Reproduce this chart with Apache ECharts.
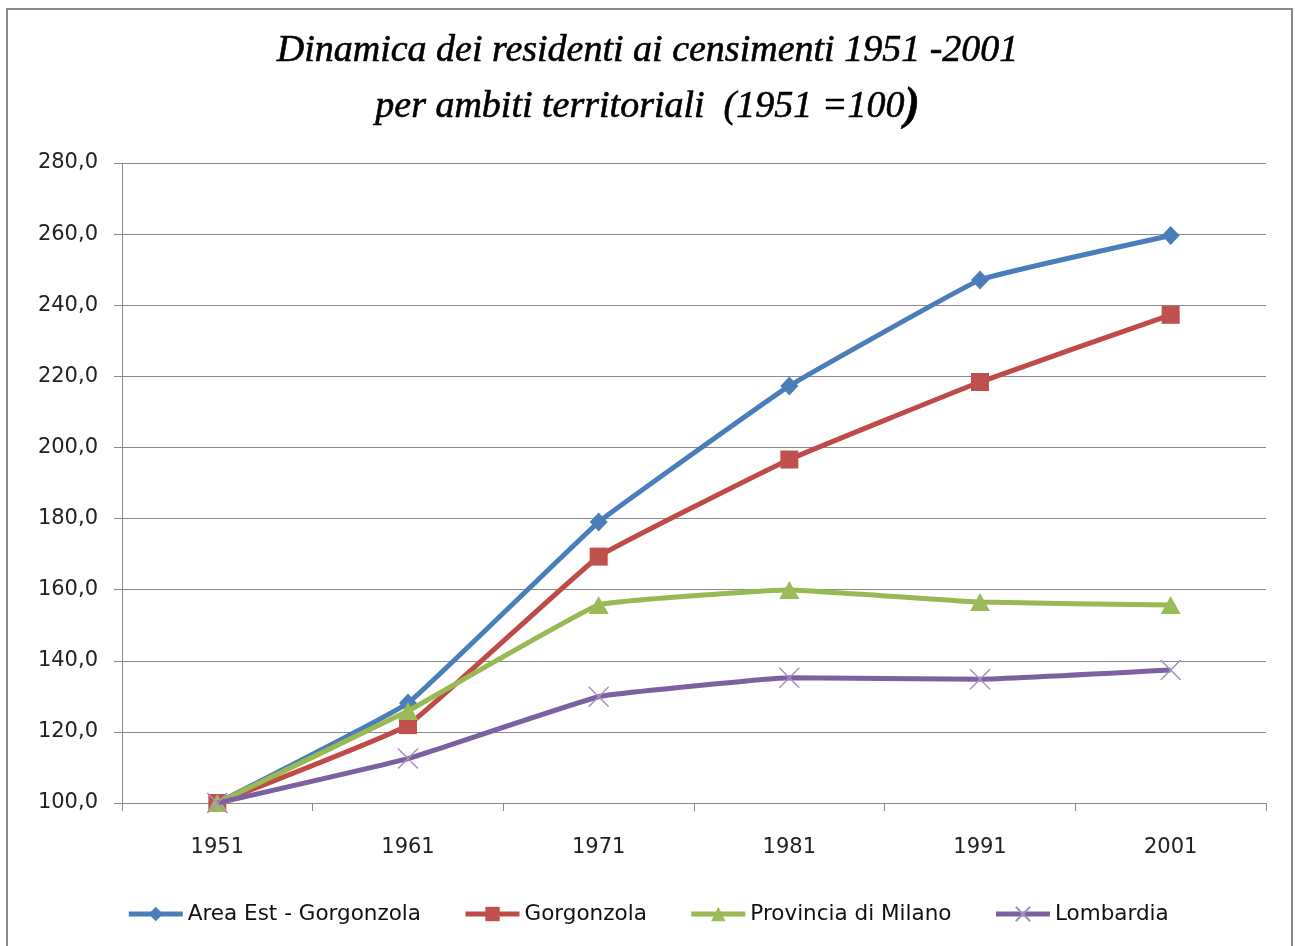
<!DOCTYPE html>
<html>
<head>
<meta charset="utf-8">
<script src="https://cdn.jsdelivr.net/npm/echarts@6/dist/echarts.min.js"></script>
<style>
html,body{margin:0;padding:0;background:#fff;}
#chart{width:1295px;height:946px;}
</style>
</head>
<body>
<div id="chart"></div>
<script>
const years = ['1951', '1961', '1971', '1981', '1991', '2001'];
const areaEst = [100.0, 128.1, 179.0, 217.3, 247.1, 259.6];
const gorgonzola = [100.0, 121.9, 169.3, 196.6, 218.4, 237.3];
const provincia = [100.0, 125.9, 155.7, 159.9, 156.5, 155.7];
const lombardia = [100.0, 112.5, 129.9, 135.2, 134.8, 137.4];
const seriesNames = ['Area Est - Gorgonzola', 'Gorgonzola', 'Provincia di Milano', 'Lombardia'];
const yTicks = { min: 100, max: 280, interval: 20 };

const chart = echarts.init(document.getElementById('chart'));
const crossPath = 'path://M0,0L10,10M10,0L0,10';
const smooth = 0.08;
const uiFont = '"DejaVu Sans", "Open Sans", sans-serif';
chart.setOption({
  backgroundColor: '#fff',
  animation: false,
  graphic: [{
    type: 'rect',
    shape: { x: 7, y: 9, width: 1285, height: 945 },
    style: { fill: 'none', stroke: '#8a8a8a', lineWidth: 2 },
    z: -1
  }],
  title: {
    text: 'Dinamica dei residenti ai censimenti 1951 -2001\n{b|per ambiti territoriali  (1951 =100}{p|)}',
    left: 'center',
    top: 18,
    textStyle: {
      fontFamily: '"Liberation Serif", "DejaVu Serif", serif',
      fontStyle: 'italic',
      fontSize: 38,
      fontWeight: 'normal',
      color: '#000',
      lineHeight: 56,
      textBorderColor: '#000',
      textBorderWidth: 0.6,
      rich: {
        b: { fontFamily: '"Liberation Serif", serif', fontStyle: 'italic', fontSize: 38, color: '#000', lineHeight: 56, textBorderColor: '#000', textBorderWidth: 0.6 },
        p: { fontFamily: '"Liberation Serif", serif', fontStyle: 'italic', fontWeight: 'bold', fontSize: 46, color: '#000', lineHeight: 56 }
      }
    }
  },
  legend: {
    bottom: 16,
    left: 'center',
    itemGap: 42,
    itemWidth: 54,
    itemHeight: 18,
    lineStyle: { width: 5 },
    textStyle: { fontFamily: uiFont, fontSize: 21.5, color: '#111' },
    data: seriesNames
  },
  grid: { left: 122, right: 29, top: 163, bottom: 143 },
  xAxis: {
    type: 'category',
    data: years,
    boundaryGap: true,
    axisLine: { lineStyle: { color: '#8a8a8a', width: 1 } },
    axisTick: { show: true, length: 8, interval: 0, lineStyle: { color: '#8a8a8a' } },
    axisLabel: { margin: 34, fontFamily: uiFont, fontSize: 21, color: '#222' },
    splitLine: { show: false }
  },
  yAxis: {
    type: 'value',
    min: yTicks.min,
    max: yTicks.max,
    interval: yTicks.interval,
    axisLine: { show: true, lineStyle: { color: '#8a8a8a', width: 1 } },
    axisTick: { show: true, length: 8, lineStyle: { color: '#8a8a8a' } },
    axisLabel: {
      margin: 24,
      fontFamily: uiFont,
      fontSize: 21,
      color: '#222',
      formatter: v => v.toFixed(1).replace('.', ',')
    },
    splitLine: { lineStyle: { color: '#8a8a8a', width: 1 } }
  },
  series: [
    {
      name: seriesNames[0], type: 'line', data: areaEst, smooth: smooth,
      symbol: 'diamond', symbolSize: [18, 19],
      lineStyle: { color: '#4a7ebb', width: 5 },
      itemStyle: { color: '#4a7ebb' }, z: 2
    },
    {
      name: seriesNames[1], type: 'line', data: gorgonzola, smooth: smooth,
      symbol: 'rect', symbolSize: 18,
      lineStyle: { color: '#be4b48', width: 5 },
      itemStyle: { color: '#c0504d' }, z: 3
    },
    {
      name: seriesNames[2], type: 'line', data: provincia, smooth: smooth,
      symbol: 'triangle', symbolSize: [20, 18],
      lineStyle: { color: '#98b954', width: 5 },
      itemStyle: { color: '#9bbb59' }, z: 4
    },
    {
      name: seriesNames[3], type: 'line', data: lombardia, smooth: smooth,
      symbol: crossPath, symbolSize: 20, symbolKeepAspect: true,
      lineStyle: { color: '#7d60a0', width: 5 },
      itemStyle: { color: 'rgba(0,0,0,0)', borderColor: '#a491c4', borderWidth: 1.5 }, z: 5
    }
  ]
});
</script>
</body>
</html>
